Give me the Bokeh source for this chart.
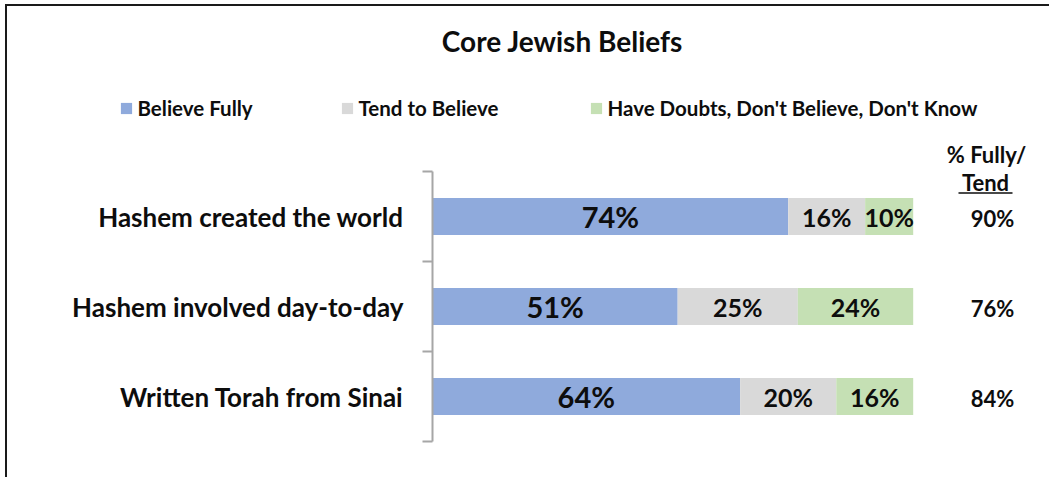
from bokeh.plotting import figure
from bokeh.layouts import column
from bokeh.models import (ColumnDataSource, Range1d, LinearAxis, FixedTicker,
                          Legend, LegendItem)
from bokeh.embed import file_html
from bokeh.resources import INLINE
from bokeh.core.properties import value

# ---------------- data ----------------
categories = ["Hashem created the world", "Hashem involved day-to-day", "Written Torah from Sinai"]
believe_fully = [74, 51, 64]
tend_to_believe = [16, 25, 20]
doubts = [10, 24, 16]
fully_tend = [90, 76, 84]
series_names = ["Believe Fully", "Tend to Believe", "Have Doubts, Don't Believe, Don't Know"]
colors = ["#8FAADC", "#D9D9D9", "#C5E0B4"]
title_text = "Core Jewish Beliefs"
header_lines = ["% Fully/", "Tend"]

FONT = "Lato"
TXT = "#0d0d0d"
n = len(categories)
stack_fields = ["full", "tend", "doubt"]

# page geometry (screen px): canvas origin after the frame border
OX, OY = 7, 6
W = 1049 - OX
SPLIT = 136          # where the header figure ends and the bar figure begins
AXIS_TOP = 171       # top of the bracket / bar area
BOTTOM = 441         # bottom of the bar area
H_TOP = SPLIT - OY
H_BOT = 477 - SPLIT
ROW_PX = (BOTTOM - AXIS_TOP) / 3.0

ypos = [n - i - 0.5 for i in range(n)]
src = ColumnDataSource(dict(y=ypos, full=believe_fully, tend=tend_to_believe, doubt=doubts))

# ---------------- header figure: title and legend ----------------
top = figure(width=W, height=H_TOP, x_range=Range1d(OX, 1049), y_range=Range1d(SPLIT, OY),
             output_backend="svg", toolbar_location=None, x_axis_type=None, y_axis_type=None,
             min_border=0, frame_align=False)
top.grid.visible = False
top.outline_line_color = None

top.text(x=[562], y=[40], text=[title_text], text_font=value(FONT), text_font_style="bold",
         text_font_size="28px", text_color=TXT, text_align="center", text_baseline="middle")

# legend swatches come from hidden copies of the series renderers
leg_rends = top.hbar_stack(stack_fields, y="y", height=0.41, fill_color=colors,
                           line_color=None, source=src)
leg_left = [120, 341, 590]
for r, name, lx in zip(leg_rends, series_names, leg_left):
    r.visible = False
    leg = Legend(items=[LegendItem(label=name, renderers=[r])],
                 location=(lx - 1.5 - OX, SPLIT - 120), orientation="horizontal",
                 glyph_width=14, glyph_height=14, label_height=11, label_standoff=5,
                 padding=0, margin=0, spacing=0, border_line_color=None,
                 background_fill_alpha=0, inactive_fill_alpha=0,
                 label_text_font=FONT, label_text_font_style="bold",
                 label_text_font_size="20.5px", label_text_color=TXT)
    top.add_layout(leg)

# ---------------- bar figure ----------------
SX0, PX = 432.0, 4.807
def dx(sx):
    return (sx - SX0) / PX
def dy(sy):
    return (BOTTOM - sy) / ROW_PX

p = figure(width=W, height=H_BOT, x_range=Range1d(0, dx(1049)), y_range=Range1d(0, dy(SPLIT)),
           output_backend="svg", toolbar_location=None, x_axis_type=None, y_axis_type=None,
           min_border_left=int(SX0 - OX), min_border_top=0, min_border_right=0,
           min_border_bottom=477 - BOTTOM, frame_align=False)
p.grid.visible = False
p.outline_line_color = None

yaxis = LinearAxis(ticker=FixedTicker(ticks=ypos, minor_ticks=list(range(n + 1))),
                   major_label_overrides={y: c for y, c in zip(ypos, categories)},
                   bounds=(0, n),
                   axis_line_color="#A6A6A6", axis_line_width=2,
                   major_tick_line_color=None, major_tick_in=0, major_tick_out=0,
                   minor_tick_in=0, minor_tick_out=10,
                   minor_tick_line_color="#A6A6A6", minor_tick_line_width=2,
                   major_label_standoff=19,
                   major_label_text_font=FONT, major_label_text_font_style="bold",
                   major_label_text_font_size="26px", major_label_text_color=TXT)
p.add_layout(yaxis, "left")

p.hbar_stack(stack_fields, y="y", height=0.41, fill_color=colors, line_color=None, source=src)

def seg_centers(i):
    out = []
    for r in range(n):
        vals = [believe_fully[r], tend_to_believe[r], doubts[r]]
        out.append(sum(vals[:i]) + vals[i] / 2)
    return out

p.text(x=seg_centers(0), y=ypos, text=[f"{v}%" for v in believe_fully],
       text_font=value(FONT), text_font_style="bold", text_font_size="29px",
       text_color=TXT, text_align="center", text_baseline="middle")
for i, vals in ((1, tend_to_believe), (2, doubts)):
    p.text(x=seg_centers(i), y=ypos, text=[f"{v}%" for v in vals],
           text_font=value(FONT), text_font_style="bold", text_font_size="25px",
           text_color=TXT, text_align="center", text_baseline="middle")

# "% Fully/Tend" column
p.text(x=[dx(992)] * n, y=ypos, text=[f"{v}%" for v in fully_tend],
       text_font=value(FONT), text_font_style="bold", text_font_size="22px",
       text_color=TXT, text_align="center", text_baseline="middle", y_offset=2)
p.text(x=[dx(986), dx(985)], y=[dy(154), dy(182)], text=header_lines,
       text_font=value(FONT), text_font_style="bold", text_font_size="22px",
       text_color=TXT, text_align="center", text_baseline="middle")
p.segment(x0=[dx(958)], y0=[dy(192.5)], x1=[dx(1012)], y1=[dy(192.5)],
          line_color=TXT, line_width=1.5)

layout = column(top, p, spacing=0)
layout.styles = {"margin-left": "5px", "margin-top": "4px",
                 "border-top": "2px solid #1a1a1a", "border-left": "2px solid #1a1a1a"}

open("out.html", "w").write(file_html(layout, INLINE))
